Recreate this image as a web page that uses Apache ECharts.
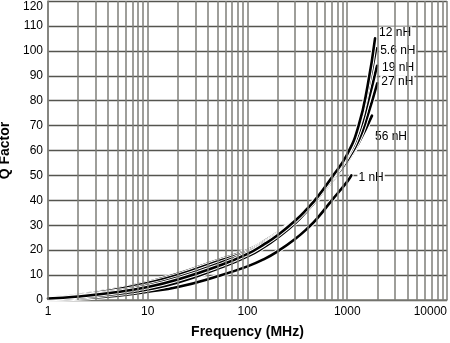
<!DOCTYPE html>
<html>
<head>
<meta charset="utf-8">
<script src="https://cdn.jsdelivr.net/npm/echarts@6/dist/echarts.min.js"></script>
<style>
html,body{margin:0;padding:0;background:#fff;}
#c{width:450px;height:343px;}
</style>
</head>
<body>
<div id="c"></div>
<script>
// ---- data ----
const seriesNames = ['1 nH', '56 nH', '27 nH', '19 nH', '5.6 nH', '12 nH'];

const freq_1nH  = [1, 2, 5, 10, 20, 50, 100, 150, 200, 300, 400, 500, 700, 1000, 1100];
const q_1nH     = [0.2, 0.6, 1.7, 3.3, 5.2, 9.5, 13.5, 16.6, 19.5, 24.5, 28.8, 32.8, 40, 47.5, 50];

const freq_56nH = [1, 2, 5, 10, 20, 50, 100, 150, 200, 300, 400, 500, 700, 1000, 1300, 1770];
const q_56nH    = [1.0, 2.1, 4.6, 7.2, 10.5, 16, 20, 23.8, 27, 32.2, 36.4, 40.2, 47.5, 55.5, 63, 74];

const freq_27nH = [1, 2, 5, 10, 20, 50, 100, 150, 200, 300, 400, 500, 700, 1000, 1300, 1600, 2000];
const q_27nH    = [0.9, 1.9, 4.3, 6.8, 10, 15.5, 19.5, 23.4, 26.6, 32, 36.5, 40.6, 48, 56, 64, 74, 87];

const freq_19nH = [1, 2, 5, 10, 20, 50, 100, 150, 200, 300, 400, 500, 700, 1000, 1300, 1600, 1990];
const q_19nH    = [0.7, 1.6, 3.6, 5.8, 9, 14.5, 19, 23, 26.3, 32, 36.8, 41, 48.6, 57.5, 67, 79, 94];

const freq_5_6nH = [1, 2, 5, 10, 20, 50, 100, 150, 200, 300, 400, 500, 700, 1000, 1300, 1600, 1950];
const q_5_6nH    = [0.4, 1.0, 2.5, 4.2, 7, 12.5, 17.5, 21.5, 25, 30.8, 36, 40.6, 48.6, 58, 69.5, 84, 101];

const freq_12nH = [1, 2, 5, 10, 20, 50, 100, 150, 200, 300, 400, 500, 700, 1000, 1300, 1600, 1900];
const q_12nH    = [0.6, 1.4, 3.2, 5.2, 8.2, 13.5, 18.5, 22.6, 26, 31.8, 36.8, 41.2, 49.2, 58.5, 70, 86, 105];

const xTickLabels = ['1', '10', '100', '1000', '10000'];
const yTickValues = [0, 10, 20, 30, 40, 50, 60, 70, 80, 90, 100, 110, 120];

const gridDecades = [1, 10, 100, 1000];
const gridMultipliers = [1, 2, 3, 4, 5, 6, 7, 8, 9];

// ---- build ----
const curves = [
  { name: seriesNames[0], f: freq_1nH,  q: q_1nH,  off: [-2, 2.5] },
  { name: seriesNames[1], f: freq_56nH, q: q_56nH, off: [-6, 21] },
  { name: seriesNames[2], f: freq_27nH, q: q_27nH, off: [-5, -2] },
  { name: seriesNames[3], f: freq_19nH, q: q_19nH, off: [-4, 2] },
  { name: seriesNames[4], f: freq_5_6nH, q: q_5_6nH, off: [-5, 2] },
  { name: seriesNames[5], f: freq_12nH, q: q_12nH, off: [-5, -6] }
];

const gridFreqs = [];
gridDecades.forEach(d => gridMultipliers.forEach(m => gridFreqs.push(d * m)));
gridFreqs.push(10000);

const FONT = '"Liberation Sans", Arial, Helvetica, sans-serif';

const series = [];
series.push({
  type: 'line',
  data: [],
  silent: true,
  markLine: {
    silent: true,
    symbol: ['none', 'none'],
    label: { show: false },
    lineStyle: { color: '#7e7e78', width: 1.5, type: 'solid' },
    data: gridFreqs.map(v => ({ xAxis: v }))
  }
});

curves.forEach(c => {
  const pts = c.f.map((f, i) => [f, c.q[i]]);
  series.push({
    type: 'line',
    name: c.name + '_halo',
    data: pts,
    smooth: 0.5,
    symbol: 'none',
    silent: true,
    lineStyle: { color: '#ffffff', width: 4.6, cap: 'round' }
  });
  series.push({
    type: 'line',
    name: c.name,
    data: pts,
    smooth: 0.5,
    symbol: 'none',
    silent: true,
    lineStyle: { color: '#000000', width: 2.6, cap: 'round' },
    endLabel: {
      show: true,
      formatter: c.name,
      offset: c.off,
      color: '#000',
      fontSize: 12,
      fontFamily: FONT,
      backgroundColor: '#ffffff',
      padding: [0, 1]
    }
  });
});

const chart = echarts.init(document.getElementById('c'), null, { renderer: 'canvas' });
chart.setOption({
  animation: false,
  backgroundColor: '#ffffff',
  grid: { left: 48, right: 3, top: 1, bottom: 43, containLabel: false, outerBoundsMode: 'none' },
  xAxis: {
    type: 'log',
    logBase: 10,
    min: 1,
    max: 10000,
    name: 'Frequency (MHz)',
    nameLocation: 'middle',
    nameGap: 25,
    nameTextStyle: { fontSize: 14, fontWeight: 'bold', color: '#000', fontFamily: FONT },
    axisLine: { show: true, lineStyle: { color: '#7e7e78', width: 1.5 } },
    axisTick: { show: false },
    splitLine: { show: false },
    axisLabel: {
      color: '#000', fontSize: 12, fontFamily: FONT, margin: 6,
      alignMaxLabel: 'right',
      formatter: v => {
        const i = Math.round(Math.log10(v));
        return xTickLabels[i] !== undefined ? xTickLabels[i] : '';
      }
    }
  },
  yAxis: {
    type: 'value',
    min: yTickValues[0],
    max: yTickValues[yTickValues.length - 1],
    interval: 10,
    name: 'Q Factor',
    nameLocation: 'middle',
    nameGap: 21,
    nameTextStyle: { fontSize: 14, fontWeight: 'bold', color: '#000', fontFamily: FONT },
    axisLine: { show: true, lineStyle: { color: '#7e7e78', width: 1.5 } },
    axisTick: { show: false },
    splitLine: { show: true, lineStyle: { color: '#55554f', width: 1.4 } },
    axisLabel: {
      color: '#000', fontSize: 12, fontFamily: FONT, margin: 5,
      verticalAlignMaxLabel: 'top'
    }
  },
  series: series
});
</script>
</body>
</html>
